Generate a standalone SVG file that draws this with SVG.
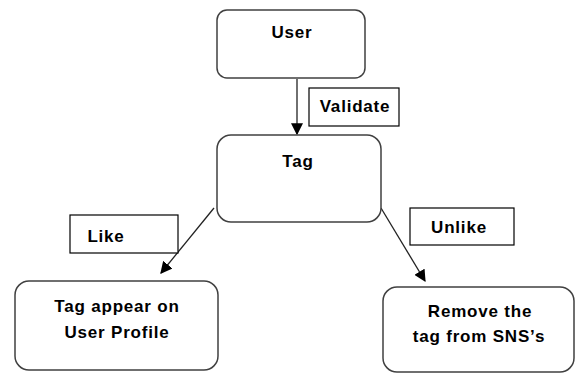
<svg xmlns="http://www.w3.org/2000/svg" width="576" height="376" viewBox="0 0 576 376">
<style>
.node{fill:#fff;stroke:#404040;stroke-width:1.5}
.lbl{fill:#fff;stroke:#000;stroke-width:1.2}
.t{font-family:"Liberation Sans",Arial,sans-serif;font-weight:bold;font-size:17px;letter-spacing:0.8px;fill:#000;text-anchor:middle}
.e{stroke:#222;stroke-width:1.3;fill:none;marker-end:url(#ah)}
</style>
<defs>
<marker id="ah" viewBox="0 0 10 10" refX="9" refY="5" markerWidth="12" markerHeight="12" markerUnits="userSpaceOnUse" orient="auto">
<path d="M0,0 L10,5 L0,10 z" fill="#000"/>
</marker>
</defs>
<rect width="576" height="376" fill="#fff"/>
<g id="connectors">
<line class="e" x1="297" y1="79" x2="297" y2="134"/>
<line class="e" x1="214" y1="208" x2="161" y2="273"/>
<line class="e" x1="381" y1="208" x2="425" y2="281"/>
</g>
<g id="validate">
<rect class="lbl" x="309" y="88" width="90" height="38"/>
<text class="t" x="355" y="112">Validate</text>
</g>
<g id="like">
<rect class="lbl" x="70" y="215" width="108" height="38"/>
<text class="t" x="106" y="242">Like</text>
</g>
<g id="unlike">
<rect class="lbl" x="410" y="208" width="104" height="37"/>
<text class="t" x="459" y="233">Unlike</text>
</g>
<g id="user">
<rect class="node" x="217" y="10" width="148" height="68" rx="10"/>
<text class="t" x="292" y="38">User</text>
</g>
<g id="tag">
<rect class="node" x="217" y="135" width="164" height="87" rx="14"/>
<text class="t" x="298" y="167">Tag</text>
</g>
<g id="profile">
<rect class="node" x="15" y="281" width="203" height="89" rx="14"/>
<text class="t" x="117" y="312">Tag appear on</text>
<text class="t" x="117" y="338">User Profile</text>
</g>
<g id="remove">
<rect class="node" x="383" y="287" width="191" height="85" rx="14"/>
<text class="t" x="480" y="317">Remove the</text>
<text class="t" x="479" y="342">tag from SNS’s</text>
</g>
</svg>
